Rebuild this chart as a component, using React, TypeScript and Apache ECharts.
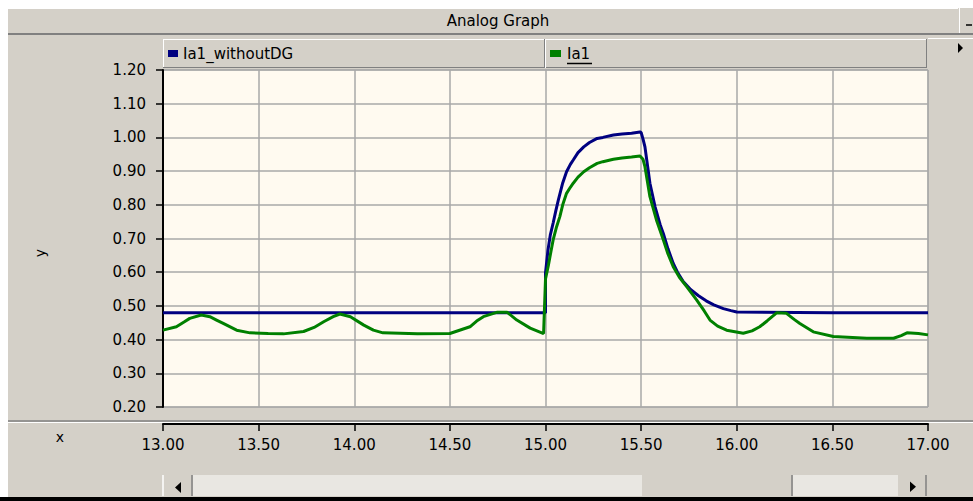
import React, { useEffect, useRef } from "react";
import * as echarts from "echarts";

// ---- data ----
const TITLE = "Analog Graph";
const SERIES_NAMES = ["Ia1_withoutDG", "Ia1"];
const SERIES_COLORS = ["#000080", "#008000"];
const X_MIN = 13.0;
const X_MAX = 17.0;
const X_STEP = 0.5;
const Y_MIN = 0.2;
const Y_MAX = 1.2;
const Y_STEP = 0.1;

// Ia1_withoutDG
const blueT = [13.0, 14.0, 15.0, 15.0, 15.013, 15.025, 15.04, 15.055, 15.067, 15.09, 15.11, 15.13, 15.145, 15.17, 15.2, 15.23, 15.27, 15.3, 15.355, 15.4, 15.45, 15.494, 15.5, 15.51, 15.52, 15.535, 15.546, 15.573, 15.6, 15.616, 15.64, 15.668, 15.69, 15.72, 15.76, 15.8, 15.84, 15.88, 15.93, 15.97, 16.0, 16.5, 17.0];
const blueV = [0.48, 0.48, 0.48, 0.598, 0.666, 0.71, 0.746, 0.785, 0.814, 0.865, 0.898, 0.92, 0.933, 0.955, 0.972, 0.985, 0.997, 1.0, 1.007, 1.01, 1.012, 1.016, 1.015, 0.995, 0.972, 0.91, 0.864, 0.794, 0.74, 0.715, 0.67, 0.626, 0.6, 0.572, 0.548, 0.53, 0.515, 0.503, 0.492, 0.486, 0.482, 0.48, 0.48];

// Ia1
const greenT = [13.0, 13.07, 13.11, 13.14, 13.2, 13.245, 13.28, 13.315, 13.385, 13.455, 13.55, 13.63, 13.735, 13.79, 13.84, 13.89, 13.925, 13.98, 14.05, 14.1, 14.15, 14.33, 14.5, 14.605, 14.64, 14.675, 14.745, 14.8, 14.85, 14.92, 14.99, 15.0, 15.015, 15.028, 15.04, 15.058, 15.075, 15.09, 15.11, 15.13, 15.145, 15.17, 15.2, 15.23, 15.27, 15.3, 15.355, 15.4, 15.45, 15.494, 15.51, 15.52, 15.546, 15.58, 15.616, 15.64, 15.668, 15.7, 15.738, 15.79, 15.83, 15.86, 15.9, 15.947, 16.034, 16.08, 16.12, 16.16, 16.21, 16.26, 16.3, 16.33, 16.4, 16.505, 16.68, 16.82, 16.86, 16.89, 16.95, 17.0];
const greenV = [0.428, 0.438, 0.452, 0.463, 0.473, 0.468, 0.458, 0.448, 0.428, 0.42, 0.418, 0.417, 0.424, 0.436, 0.453, 0.468, 0.476, 0.468, 0.443, 0.428, 0.42, 0.417, 0.418, 0.438, 0.455, 0.468, 0.481, 0.481, 0.458, 0.434, 0.418, 0.58, 0.62, 0.66, 0.696, 0.735, 0.765, 0.8, 0.834, 0.852, 0.864, 0.882, 0.898, 0.91, 0.923, 0.928, 0.935, 0.939, 0.942, 0.945, 0.935, 0.913, 0.824, 0.755, 0.696, 0.655, 0.616, 0.585, 0.557, 0.518, 0.485, 0.458, 0.44, 0.428, 0.419, 0.426, 0.438, 0.456, 0.48, 0.478, 0.46, 0.448, 0.423, 0.409, 0.404, 0.404, 0.412, 0.42, 0.418, 0.414];

const FONT = "DejaVu Sans";
const GREY = "#d4d0c8";
const DARK = "#808080";

function pairs(t: number[], v: number[]) {
  return t.map((x, i) => [x, v[i]]);
}

function hline(x1: number, x2: number, y: number, color: string, w = 1) {
  return { type: "line", silent: true, shape: { x1, y1: y, x2, y2: y }, style: { stroke: color, lineWidth: w } };
}
function vline(x: number, y1: number, y2: number, color: string, w = 1) {
  return { type: "line", silent: true, shape: { x1: x, y1, x2: x, y2 }, style: { stroke: color, lineWidth: w } };
}

export default function App() {
  const ref = useRef<HTMLDivElement>(null);
  useEffect(() => {
    if (!ref.current) return;
    const chart = echarts.init(ref.current, undefined, { renderer: "svg" });

    const graphics: any[] = [
      // white page margins
      { type: "rect", shape: { x: 0, y: 0, width: 973, height: 8 }, style: { fill: "#ffffff" } },
      { type: "rect", shape: { x: 0, y: 0, width: 8, height: 497 }, style: { fill: "#ffffff" } },
      { type: "rect", shape: { x: 0, y: 497, width: 973, height: 4 }, style: { fill: "#000000" } },
      // title bar
      hline(8, 958, 8.5, "#ffffff"),
      hline(8, 973, 34, DARK, 2),
      vline(959.5, 8, 33, "#ffffff"),
      hline(966, 972, 25, "#000000", 1.5),
      { type: "text", style: { text: TITLE, x: 498, y: 21, align: "center", verticalAlign: "middle", font: `15px "${FONT}"`, fill: "#000000" } },
      // legend boxes
      hline(163, 926, 39.5, "#ffffff"),
      vline(163.5, 39, 68, "#ffffff"),
      hline(163, 927, 67.5, DARK),
      vline(544.5, 39, 68, DARK),
      vline(545.5, 39, 68, "#ffffff"),
      vline(926.5, 39, 68, DARK),
      { type: "rect", shape: { x: 168, y: 50, width: 10, height: 7 }, style: { fill: SERIES_COLORS[0] } },
      { type: "text", style: { text: SERIES_NAMES[0], x: 183, y: 54, verticalAlign: "middle", font: `15px "${FONT}"`, fill: "#000000" } },
      { type: "rect", shape: { x: 550, y: 50, width: 11, height: 7 }, style: { fill: SERIES_COLORS[1] } },
      { type: "text", style: { text: SERIES_NAMES[1], x: 567, y: 54, verticalAlign: "middle", font: `15px "${FONT}"`, fill: "#000000" } },
      hline(567, 592, 63.5, "#000000", 1.5),
      // right-hand legend arrow
      hline(928, 973, 38.5, "#ffffff"),
      { type: "polygon", shape: { points: [[958, 43], [958, 53], [963, 48]] }, style: { fill: "#000000" } },
      // axis names
      { type: "text", style: { text: "x", x: 60, y: 437, align: "center", verticalAlign: "middle", font: `14px "${FONT}"`, fill: "#000000" } },
      { type: "text", rotation: Math.PI / 2, x: 40, y: 253, style: { text: "y", x: 0, y: 0, align: "center", verticalAlign: "middle", font: `14px "${FONT}"`, fill: "#000000" } },
      // separator above x axis
      hline(8, 973, 421, DARK, 1.5),
      hline(8, 973, 422.5, "#ffffff", 1),
      // scrollbar
      { type: "rect", shape: { x: 193, y: 475, width: 449, height: 21 }, style: { fill: "#e9e7e2" } },
      { type: "rect", shape: { x: 793, y: 475, width: 105, height: 21 }, style: { fill: "#e9e7e2" } },
      vline(163, 475, 496, "#ffffff", 1.5),
      vline(192, 475, 496, DARK, 1.5),
      vline(792, 475, 496, DARK, 1.5),
      vline(926, 475, 496, DARK, 1.5),
      { type: "polygon", shape: { points: [[175, 487.5], [181, 482], [181, 493]] }, style: { fill: "#000000" } },
      { type: "polygon", shape: { points: [[910, 481.5], [910, 492], [916, 486.8]] }, style: { fill: "#000000" } },
    ];

    const option: any = {
      animation: false,
      backgroundColor: GREY,
      grid: {
        left: 163,
        top: 70,
        width: 765,
        height: 337,
        show: true,
        backgroundColor: "#fffaf0",
        borderColor: "#a0a0a0",
        borderWidth: 1,
        containLabel: false,
      },
      xAxis: {
        type: "value",
        min: X_MIN,
        max: X_MAX,
        interval: X_STEP,
        offset: 17,
        axisLine: { show: true, onZero: false, lineStyle: { color: "#000000", width: 2 } },
        axisTick: { show: true, length: 7, lineStyle: { color: "#000000", width: 1.5 } },
        axisLabel: {
          margin: 13,
          color: "#000000",
          fontFamily: FONT,
          fontSize: 15,
          formatter: (v: number) => v.toFixed(2),
        },
        splitLine: { show: true, lineStyle: { color: "#a9a9a9", width: 1.5 } },
      },
      yAxis: {
        type: "value",
        min: Y_MIN,
        max: Y_MAX,
        interval: Y_STEP,
        axisLine: { show: true, onZero: false, lineStyle: { color: "#000000", width: 2 } },
        axisTick: { show: true, length: 7, lineStyle: { color: "#000000", width: 1.5 } },
        axisLabel: {
          margin: 17,
          color: "#000000",
          fontFamily: FONT,
          fontSize: 15,
          formatter: (v: number) => v.toFixed(2),
        },
        splitLine: { show: true, lineStyle: { color: "#a9a9a9", width: 1.5 } },
      },
      series: [
        {
          name: SERIES_NAMES[0],
          type: "line",
          data: pairs(blueT, blueV),
          showSymbol: false,
          lineStyle: { color: SERIES_COLORS[0], width: 3 },
          itemStyle: { color: SERIES_COLORS[0] },
        },
        {
          name: SERIES_NAMES[1],
          type: "line",
          data: pairs(greenT, greenV),
          showSymbol: false,
          lineStyle: { color: SERIES_COLORS[1], width: 3 },
          itemStyle: { color: SERIES_COLORS[1] },
        },
      ],
      graphic: graphics,
    };
    chart.setOption(option);
    return () => chart.dispose();
  }, []);

  return (
    <div
      ref={ref}
      style={{ position: "fixed", left: 0, top: 0, width: 973, height: 501 }}
    />
  );
}
